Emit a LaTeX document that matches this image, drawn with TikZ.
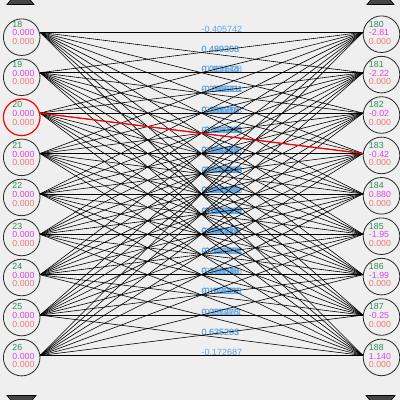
\documentclass[tikz,border=0pt]{standalone}
\usepackage{fontspec}
\setmainfont{Liberation Sans}
\definecolor{bg}{RGB}{239,239,239}
\definecolor{circgray}{RGB}{40,40,40}
\definecolor{idgreen}{RGB}{46,139,87}
\definecolor{valmag}{RGB}{221,68,221}
\definecolor{valred}{RGB}{240,120,120}
\definecolor{wblue}{RGB}{95,165,225}
\definecolor{capgray}{RGB}{70,70,70}
\begin{document}
\begin{tikzpicture}[x=1pt,y=-1pt,
  nodecirc/.style={circle, draw=circgray, fill=bg, line width=0.8pt,
    minimum size=36.6pt, inner sep=0pt},
  hotcirc/.style={nodecirc, draw=red, line width=1.2pt},
  nodetext/.style={align=left, inner sep=0pt,
    font=\fontsize{8.8}{8.7}\selectfont},
  edge/.style={line width=0.6pt, black},
  hotedge/.style={line width=1.2pt, red},
  wlabel/.style={anchor=base west, inner sep=0pt, text=wblue,
    font=\fontsize{9}{9}\selectfont},
  arrowcap/.style={fill=capgray, draw=black, line width=0.6pt}]

\useasboundingbox (0,0) rectangle (400,400);
\fill[bg] (0,0) rectangle (400,400);

% scroll caps at the four corners
\filldraw[arrowcap] (7,4.5) -- (34,4.5) -- (29.5,-1) -- (11.5,-1) -- cycle;
\filldraw[arrowcap] (367,4.5) -- (394,4.5) -- (389.5,-1) -- (371.5,-1) -- cycle;
\filldraw[arrowcap] (7,395.5) -- (36,395.5) -- (31.5,401) -- (11.5,401) -- cycle;
\filldraw[arrowcap] (366,395.5) -- (395,395.5) -- (390.5,401) -- (370.5,401) -- cycle;

% connection points of the two layers
\foreach \i in {0,...,8} {
  \pgfmathsetmacro\ty{32.3+40.4*\i}
  \coordinate (lp\i) at (40,\ty);
  \coordinate (rp\i) at (363,\ty);
}

% weights, one row per input node
\foreach \i/\ws in {
  0/{-0.405742,0.489358,0.213574,-0.087321,0.341962,-0.256813,0.118437,-0.472016,0.305189},
  1/{0.499303,-0.134528,0.276041,0.058213,-0.391746,0.167382,-0.220954,0.437615,-0.018362},
  2/{0.082145,0.354871,-0.296318,0.143927,0.026548,-0.415273,0.382061,-0.069834,0.251746},
  3/{-0.318264,0.195730,0.047382,-0.263518,0.419275,0.084136,-0.157829,0.296413,-0.342057},
  4/{0.237816,-0.051394,0.368425,0.129064,-0.284751,0.312598,0.063247,-0.198472,0.420918},
  5/{-0.146293,0.274158,-0.389426,0.017835,0.356102,-0.092467,0.241873,0.138546,-0.305612},
  6/{0.395281,-0.217639,0.104852,-0.348107,0.073914,0.286350,-0.431285,0.159624,0.028473},
  7/{0.061538,0.328467,-0.175903,0.402716,-0.036284,0.219546,0.147382,-0.263971,0.635293},
  8/{-0.287415,0.153862,0.046927,-0.321584,0.268093,-0.114736,0.387205,0.625283,-0.172687}} {
  \foreach \w [count=\jj from 0] in \ws {
    \path (lp\i) -- (rp\jj) node[pos=0.5, wlabel] {\w};
  }
}

% all connections
\foreach \i in {0,...,8} {
  \foreach \j in {0,...,8} {
    \draw[edge] (lp\i) -- (rp\j);
  }
}
\draw[hotedge] (lp2) -- (rp3);

% input layer
\foreach \i/\id in {0/18,1/19,2/20,3/21,4/22,5/23,6/24,7/25,8/26} {
  \pgfmathsetmacro\cy{37.2+40.05*\i}
  \pgfmathsetmacro\ty{32.8+40.4*\i}
  \ifnum\i=2
    \node[hotcirc] (lc\i) at (21.7,\cy) {};
  \else
    \node[nodecirc] (lc\i) at (21.7,\cy) {};
  \fi
  \node[nodetext] (lt\i) at (23.5,\ty)
    {\textcolor{idgreen}{\id}\\\textcolor{valmag}{0.000}\\\textcolor{valred}{0.000}};
}

% output layer
\foreach \i/\id/\v in {0/180/-2.81,1/181/-2.22,2/182/-0.02,3/183/-0.42,4/184/0.880,
  5/185/-1.95,6/186/-1.99,7/187/-0.25,8/188/1.140} {
  \pgfmathsetmacro\cy{34.2+40.4*\i}
  \pgfmathsetmacro\ty{32.8+40.4*\i}
  \node[nodecirc] (rc\i) at (381.5,\cy) {};
  \node[nodetext] (rt\i) at (380,\ty)
    {\textcolor{idgreen}{\id}\\\textcolor{valmag}{\v}\\\textcolor{valred}{0.000}};
}
\end{tikzpicture}
\end{document}
